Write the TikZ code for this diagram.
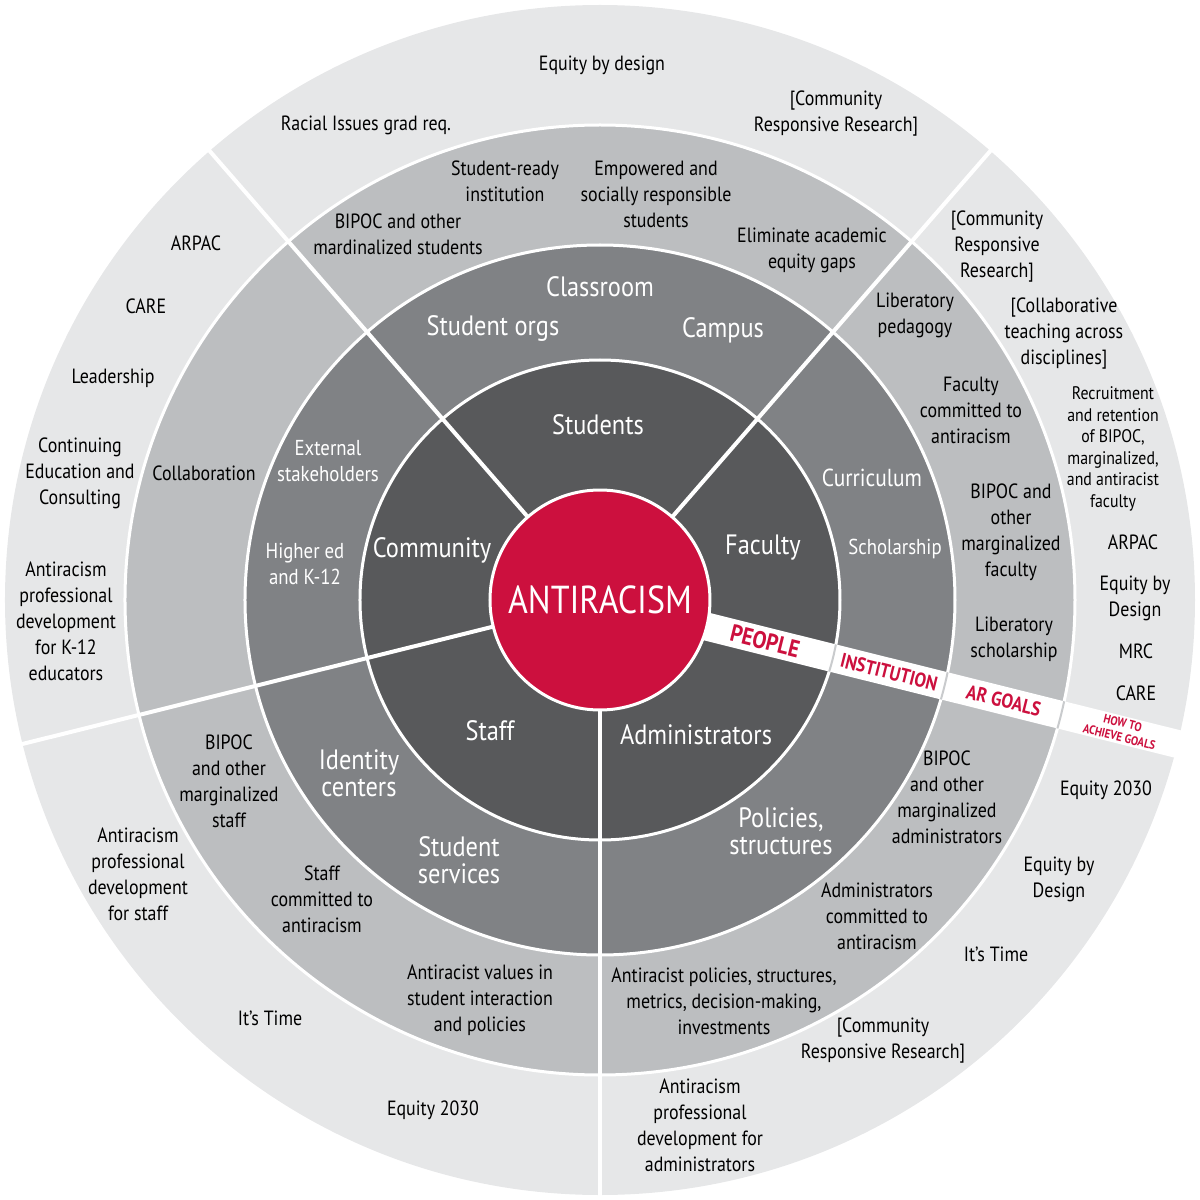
\documentclass[tikz,border=0pt]{standalone}
\usepackage{fontspec}
\setmainfont{PT Sans}[FakeStretch=0.87]
\definecolor{peopleGray}{RGB}{88,89,91}
\definecolor{instGray}{RGB}{128,130,133}
\definecolor{goalGray}{RGB}{188,190,192}
\definecolor{howGray}{RGB}{230,231,232}
\definecolor{arRed}{RGB}{204,16,62}
\usepackage{tikz}

\begin{document}
\begin{tikzpicture}[x=0.5pt, y=0.5pt,
    ringline/.style={white, line width=1.5pt},
    spoke/.style={white, line width=2pt},
    bandtick/.style={goalGray!80, line width=1pt},
    people/.style={align=center, text=white, font=\fontsize{14}{13.5}\selectfont, inner sep=0pt},
    inst/.style={align=center, text=white, font=\fontsize{14}{13.5}\selectfont, inner sep=0pt},
    instsmall/.style={inst, font=\fontsize{10.8}{13}\selectfont},
    goal/.style={align=center, text=black, font=\fontsize{10.3}{13}\selectfont, inner sep=0pt},
    goalsmall/.style={goal, font=\fontsize{9.1}{10.8}\selectfont},
    bandlabel/.style={text=arRed, font=\bfseries\fontsize{10}{10}\selectfont, rotate=-14, inner sep=0pt}]
  \useasboundingbox (-600,-600) rectangle (600,600);
  % Rings
  \fill[howGray] (0,0) circle (595);
  \fill[goalGray] (0,0) circle (475);
  \fill[instGray] (0,0) circle (355);
  \fill[peopleGray] (0,0) circle (240);
  \foreach \r in {240,355,475} \draw[ringline] (0,0) circle (\r);
  % Spokes
  \foreach \a in {49,131,194,270} \draw[spoke] (0,0) -- (\a:596);
  % Band
  \fill[white, rotate=-14] (0,-14) rectangle (597,14);
  \begin{scope}
    \clip[rotate=-14] (0,-14) rectangle (597,14);
    \foreach \r in {240,355,475} \draw[bandtick] (0,0) circle (\r);
  \end{scope}
  % Core
  \node[circle, fill=arRed, draw=white, line width=1.5pt, minimum size=110pt, inner sep=0pt,
    text=white, font=\fontsize{19.5}{20}\selectfont] (core) at (0,0) {ANTIRACISM};
  % People
  \node[people] (students) at (-2,175) {Students};
  \node[people] (faculty) at (163,52) {Faculty};
  \node[people] (community) at (-168,50) {Community};
  \node[people] (staff) at (-110,-131) {Staff};
  \node[people] (admins) at (96,-135) {Administrators};
  % Institution
  \node[inst] (classroom) at (0,313) {Classroom};
  \node[inst] (studentorgs) at (-107,271) {Student orgs};
  \node[inst] (campus) at (123,270) {Campus};
  \node[instsmall] (external) at (-272,139) {External\\stakeholders};
  \node[instsmall] (highered) at (-295,36) {Higher ed\\and K-12};
  \node[inst, font=\fontsize{12.3}{13}\selectfont] (curriculum) at (272,122) {Curriculum};
  \node[instsmall] (scholarship) at (295,51) {Scholarship};
  \node[inst] (identity) at (-241,-173) {Identity\\centers};
  \node[inst] (services) at (-141,-260) {Student\\services};
  \node[inst] (policies) at (181,-231) {Policies,\\structures};
  % AR goals
  \node[goal] (readyinst) at (-95,419) {Student-ready\\institution};
  \node[goal] (empowered) at (56,406) {Empowered and\\socially responsible\\students};
  \node[goal] (bipocstud) at (-202,366) {BIPOC and other\\mardinalized students};
  \node[goal] (gaps) at (212,350) {Eliminate academic\\equity gaps};
  \node[goal] (collab) at (-396,127) {Collaboration};
  \node[goal] (pedagogy) at (315,285) {Liberatory\\pedagogy};
  \node[goal] (faccommit) at (371,190) {Faculty\\committed to\\antiracism};
  \node[goal] (bipocfac) at (411,68) {BIPOC and\\other\\marginalized\\faculty};
  \node[goal] (libschol) at (414,-39) {Liberatory\\scholarship};
  \node[goal] (bipocstaff) at (-371,-181) {BIPOC\\and other\\marginalized\\staff};
  \node[goal] (staffcommit) at (-278,-299) {Staff\\committed to\\antiracism};
  \node[goal] (values) at (-120,-400) {Antiracist values in\\student interaction\\and policies};
  \node[goal] (bipocadm) at (347,-197) {BIPOC\\and other\\marginalized\\administrators};
  \node[goal] (admcommit) at (277,-316) {Administrators\\committed to\\antiracism};
  \node[goal] (arpolicies) at (124,-401) {Antiracist policies, structures,\\metrics, decision-making,\\investments};
  % How to achieve goals
  \node[goal] (eqdesign) at (2,535) {Equity by design};
  \node[goal] (gradreq) at (-234,475) {Racial Issues grad req.};
  \node[goal] (crrtop) at (236,486) {[Community\\Responsive Research]};
  \node[goal] (arpacleft) at (-404,357) {ARPAC};
  \node[goal] (careleft) at (-454,294) {CARE};
  \node[goal] (leadership) at (-487,222) {Leadership};
  \node[goal] (conted) at (-520,127) {Continuing\\Education and\\Consulting};
  \node[goal] (pdkeducators) at (-534,-21) {Antiracism\\professional\\development\\for K-12\\educators};
  \node[goal] (crrright) at (397,353) {[Community\\Responsive\\Research]};
  \node[goal] (collabteach) at (464,266) {[Collaborative\\teaching across\\disciplines]};
  \node[goalsmall] (recruit) at (513,151) {Recruitment\\and retention\\of BIPOC,\\marginalized,\\and antiracist\\faculty};
  \node[goal] (arpacright) at (533,58) {ARPAC};
  \node[goal] (eqdesignright) at (535,2) {Equity by\\Design};
  \node[goal] (mrc) at (536,-51) {MRC};
  \node[goal] (careright) at (536,-93) {CARE};
  \node[goal] (eqright) at (506,-190) {Equity 2030};
  \node[goal] (eqdesignlow) at (459,-279) {Equity by\\Design};
  \node[goal] (timeright) at (396,-354) {It’s Time};
  \node[goal] (crrlow) at (283,-441) {[Community\\Responsive Research]};
  \node[goal] (pdadmins) at (100,-525) {Antiracism\\professional\\development for\\administrators};
  \node[goal] (eqleft) at (-167,-510) {Equity 2030};
  \node[goal] (timeleft) at (-330,-418) {It’s Time};
  \node[goal] (pdstaff) at (-462,-274) {Antiracism\\professional\\development\\for staff};
  % Band labels
  \node[bandlabel, font=\bfseries\fontsize{12}{12}\selectfont] (peoplelbl) at (-14:170) {PEOPLE};
  \node[bandlabel] (instlbl) at (-14:298) {INSTITUTION};
  \node[bandlabel] (goalslbl) at (-14:416) {AR GOALS};
  \node[bandlabel, align=center, font=\bfseries\fontsize{6.2}{7.2}\selectfont] (howlbl) at (-14:537) {HOW TO\\ACHIEVE GOALS};
\end{tikzpicture}
\end{document}
